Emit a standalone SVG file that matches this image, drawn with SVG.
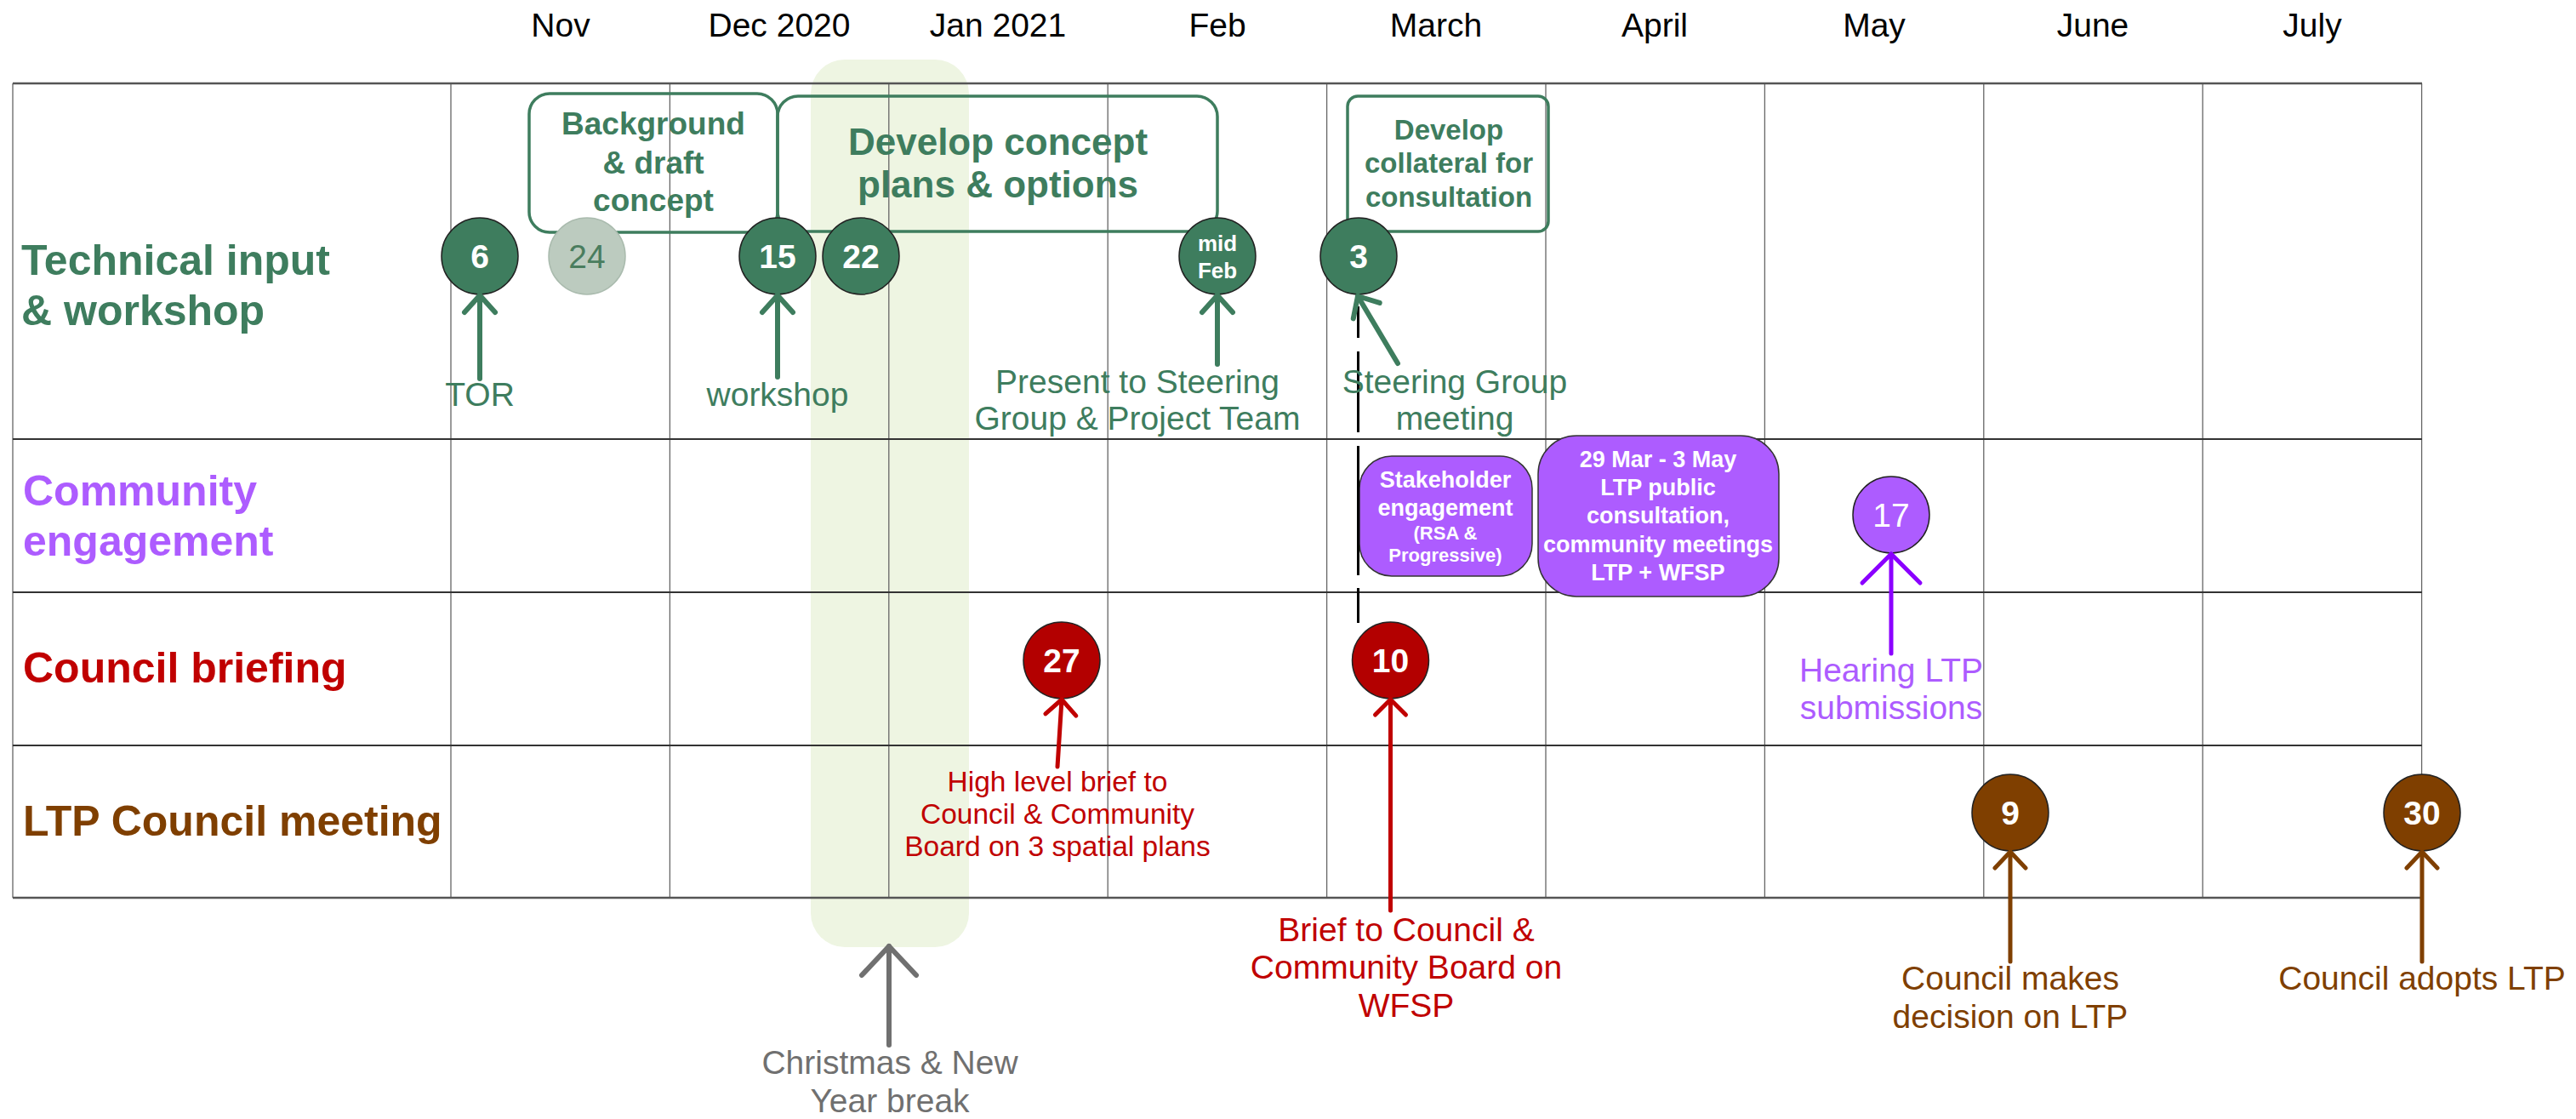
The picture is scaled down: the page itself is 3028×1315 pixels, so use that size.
<svg xmlns="http://www.w3.org/2000/svg" width="3028" height="1315" viewBox="0 0 3028 1315">
<style>
text{font-family:"Liberation Sans",Arial,sans-serif}
.mon{font-size:39px;fill:#000;text-anchor:middle}
.lane{font-size:50px;font-weight:bold}
.gv{stroke:#666;stroke-width:1.3;fill:none}
.gh{stroke:#333;stroke-width:2;fill:none}
.gb{stroke:#555;stroke-width:2.5;fill:none}
.box{fill:none;stroke:#3e7d5e;stroke-width:3.5}
.bt{fill:#3e7d5e;font-weight:bold;text-anchor:middle}
.pbox{fill:#ad5cff;stroke:#333;stroke-width:1.5}
.pt{fill:#fff;font-weight:bold;text-anchor:middle}
.dot{stroke:#222;stroke-width:1.5}
.num{fill:#fff;font-weight:bold;font-size:39px;text-anchor:middle}
.lbl{font-size:39px;text-anchor:middle}
.g{fill:#3e7d5e}.p{fill:#ad5cff}.r{fill:#c00000}.b{fill:#7f3f00}.gr{fill:#707070}
.cg{stroke:#3e7d5e;stroke-width:6;fill:none;stroke-linecap:round}
.cr{stroke:#c00000;stroke-width:5;fill:none;stroke-linecap:round}
.cp{stroke:#8b00ff;stroke-width:5;fill:none;stroke-linecap:round}
.cb{stroke:#7f3f00;stroke-width:5;fill:none;stroke-linecap:round}
.cy{stroke:#707070;stroke-width:6;fill:none;stroke-linecap:round}
</style>
<defs>
<marker id="ag" markerUnits="userSpaceOnUse" orient="auto" refX="0" refY="0" markerWidth="60" markerHeight="60" overflow="visible"><path d="M-20,-18 L0,0 L-20,18" fill="none" stroke="#3e7d5e" stroke-width="6" stroke-linecap="round" stroke-linejoin="round"/></marker>
<marker id="ar" markerUnits="userSpaceOnUse" orient="auto" refX="0" refY="0" markerWidth="60" markerHeight="60" overflow="visible"><path d="M-18,-18 L0,0 L-18,18" fill="none" stroke="#c00000" stroke-width="5" stroke-linecap="round" stroke-linejoin="round"/></marker>
<marker id="ap" markerUnits="userSpaceOnUse" orient="auto" refX="0" refY="0" markerWidth="80" markerHeight="80" overflow="visible"><path d="M-34,-34 L0,0 L-34,34" fill="none" stroke="#8b00ff" stroke-width="5" stroke-linecap="round" stroke-linejoin="round"/></marker>
<marker id="ab" markerUnits="userSpaceOnUse" orient="auto" refX="0" refY="0" markerWidth="60" markerHeight="60" overflow="visible"><path d="M-19,-18 L0,0 L-19,18" fill="none" stroke="#7f3f00" stroke-width="5" stroke-linecap="round" stroke-linejoin="round"/></marker>
<marker id="ay" markerUnits="userSpaceOnUse" orient="auto" refX="0" refY="0" markerWidth="80" markerHeight="80" overflow="visible"><path d="M-34,-32 L0,0 L-34,32" fill="none" stroke="#707070" stroke-width="6" stroke-linecap="round" stroke-linejoin="round"/></marker>
</defs>
<rect width="3028" height="1315" fill="#fff"/>
<!-- holiday band -->
<rect id="holiday-band" x="953" y="70" width="186" height="1043" rx="40" fill="#eef5e2"/>
<!-- grid -->
<g id="grid">
<path class="gv" d="M15,98V1055 M530,98V1055 M787.4,98V1055 M1044.8,98V1055 M1302.2,98V1055 M1559.6,98V1055 M1817,98V1055 M2074.4,98V1055 M2331.8,98V1055 M2589.2,98V1055 M2846.6,98V1055"/>
<path class="gh" d="M15,516H2847 M15,696H2847 M15,876H2847"/>
<path class="gb" d="M15,98H2847 M15,1055H2847"/>
</g>
<!-- month headers -->
<g id="months">
<text class="mon" x="659" y="43">Nov</text>
<text class="mon" x="916" y="43">Dec 2020</text>
<text class="mon" x="1173" y="43">Jan 2021</text>
<text class="mon" x="1431" y="43">Feb</text>
<text class="mon" x="1688" y="43">March</text>
<text class="mon" x="1945" y="43">April</text>
<text class="mon" x="2203" y="43">May</text>
<text class="mon" x="2460" y="43">June</text>
<text class="mon" x="2718" y="43">July</text>
</g>
<!-- lane labels -->
<g id="lanes">
<text class="lane g" x="25" y="323">Technical input</text>
<text class="lane g" x="25" y="382">&amp; workshop</text>
<text class="lane p" x="27" y="594">Community</text>
<text class="lane p" x="27" y="653">engagement</text>
<text class="lane r" x="27" y="802">Council briefing</text>
<text class="lane b" x="27" y="982">LTP Council meeting</text>
</g>
<!-- phase boxes -->
<g id="box-background">
<rect class="box" x="622" y="110" width="292" height="163" rx="24"/>
<text class="bt" style="font-size:37px" x="768" y="158">Background</text>
<text class="bt" style="font-size:37px" x="768" y="204">&amp; draft</text>
<text class="bt" style="font-size:37px" x="768" y="248">concept</text>
</g>
<g id="box-develop-concept">
<rect class="box" x="914" y="113" width="517" height="159" rx="24"/>
<text class="bt" style="font-size:44px" x="1173" y="182">Develop concept</text>
<text class="bt" style="font-size:44px" x="1173" y="232">plans &amp; options</text>
</g>
<g id="box-collateral">
<rect class="box" x="1584" y="113" width="236" height="159" rx="12"/>
<text class="bt" style="font-size:33px" x="1703" y="164">Develop</text>
<text class="bt" style="font-size:33px" x="1703" y="203">collateral for</text>
<text class="bt" style="font-size:33px" x="1703" y="243">consultation</text>
</g>
<g id="box-stakeholder">
<rect class="pbox" x="1598" y="536" width="203" height="141" rx="38"/>
<text class="pt" style="font-size:27px" x="1699" y="573">Stakeholder</text>
<text class="pt" style="font-size:27px" x="1699" y="606">engagement</text>
<text class="pt" style="font-size:22px" x="1699" y="634">(RSA &amp;</text>
<text class="pt" style="font-size:22px" x="1699" y="660">Progressive)</text>
</g>
<g id="box-consultation">
<rect class="pbox" x="1808" y="512" width="283" height="189" rx="45"/>
<text class="pt" style="font-size:27px" x="1949" y="549">29 Mar - 3 May</text>
<text class="pt" style="font-size:27px" x="1949" y="582">LTP public</text>
<text class="pt" style="font-size:27px" x="1949" y="615">consultation,</text>
<text class="pt" style="font-size:27px" x="1949" y="649">community meetings</text>
<text class="pt" style="font-size:27px" x="1949" y="682">LTP + WFSP</text>
</g>
<!-- milestones -->
<g id="m-6"><circle class="dot" cx="564" cy="301" r="45" fill="#3e7d5e"/><text class="num" x="564" y="315">6</text></g>
<g id="m-24"><circle cx="690" cy="301" r="45" fill="#bccbbf" stroke="#aabbae" stroke-width="1.5"/><text x="690" y="315" style="font-size:39px" text-anchor="middle" fill="#4a7d5e">24</text></g>
<g id="m-15"><circle class="dot" cx="914" cy="301" r="45" fill="#3e7d5e"/><text class="num" x="914" y="315">15</text></g>
<g id="m-22"><circle class="dot" cx="1012" cy="301" r="45" fill="#3e7d5e"/><text class="num" x="1012" y="315">22</text></g>
<g id="m-midfeb"><circle class="dot" cx="1431" cy="301" r="45" fill="#3e7d5e"/><text class="num" style="font-size:26px" x="1431" y="295">mid</text><text class="num" style="font-size:26px" x="1431" y="327">Feb</text></g>
<g id="m-3"><circle class="dot" cx="1597" cy="301" r="45" fill="#3e7d5e"/><text class="num" x="1597" y="315">3</text></g>
<g id="m-17"><circle class="dot" cx="2223" cy="605" r="45" fill="#ad5cff"/><text x="2223" y="619" style="font-size:39px" text-anchor="middle" fill="#fff">17</text></g>
<g id="m-27"><circle class="dot" cx="1248" cy="776" r="45" fill="#b30000"/><text class="num" x="1248" y="790">27</text></g>
<g id="m-10"><circle class="dot" cx="1634.5" cy="776" r="45" fill="#b30000"/><text class="num" x="1634.5" y="790">10</text></g>
<g id="m-9"><circle class="dot" cx="2363" cy="955" r="45" fill="#7f3f00"/><text class="num" x="2363" y="969">9</text></g>
<g id="m-30"><circle class="dot" cx="2847" cy="955" r="45" fill="#7f3f00"/><text class="num" x="2847" y="969">30</text></g>
<!-- connectors -->
<g id="connectors">
<path d="M1596.5,360V397 M1596.5,413V508 M1596.5,524V676 M1596.5,691V732" stroke="#000" stroke-width="3" fill="none"/>
<path class="cg" d="M564,445V347" marker-end="url(#ag)"/>
<path class="cg" d="M914,443V347" marker-end="url(#ag)"/>
<path class="cg" d="M1431,428V347" marker-end="url(#ag)"/>
<path class="cg" d="M1643,427L1596,348" marker-end="url(#ag)"/>
<path class="cr" d="M1243,901L1248,822" marker-end="url(#ar)"/>
<path class="cr" d="M1634.5,1070V822" marker-end="url(#ar)"/>
<path class="cp" d="M2223,768V651" marker-end="url(#ap)"/>
<path class="cy" d="M1045,1228V1112" marker-end="url(#ay)"/>
<path class="cb" d="M2363,1130V1001" marker-end="url(#ab)"/>
<path class="cb" d="M2847,1130V1001" marker-end="url(#ab)"/>
</g>
<!-- annotation labels -->
<g id="labels">
<text class="lbl g" x="564" y="477">TOR</text>
<text class="lbl g" x="914" y="477">workshop</text>
<text class="lbl g" x="1337" y="462">Present to Steering</text>
<text class="lbl g" x="1337" y="505">Group &amp; Project Team</text>
<text class="lbl g" x="1710" y="462">Steering Group</text>
<text class="lbl g" x="1710" y="505">meeting</text>
<text class="lbl p" x="2223" y="801">Hearing LTP</text>
<text class="lbl p" x="2223" y="845">submissions</text>
<text class="lbl r" style="font-size:33.5px" x="1243" y="930">High level brief to</text>
<text class="lbl r" style="font-size:33.5px" x="1243" y="968">Council &amp; Community</text>
<text class="lbl r" style="font-size:33.5px" x="1243" y="1006">Board on 3 spatial plans</text>
<text class="lbl r" x="1653" y="1106">Brief to Council &amp;</text>
<text class="lbl r" x="1653" y="1150">Community Board on</text>
<text class="lbl r" x="1653" y="1195">WFSP</text>
<text class="lbl b" x="2363" y="1163">Council makes</text>
<text class="lbl b" x="2363" y="1208">decision on LTP</text>
<text class="lbl b" x="2847" y="1163">Council adopts LTP</text>
<text class="lbl gr" x="1046" y="1262">Christmas &amp; New</text>
<text class="lbl gr" x="1046" y="1307">Year break</text>
</g>
</svg>
